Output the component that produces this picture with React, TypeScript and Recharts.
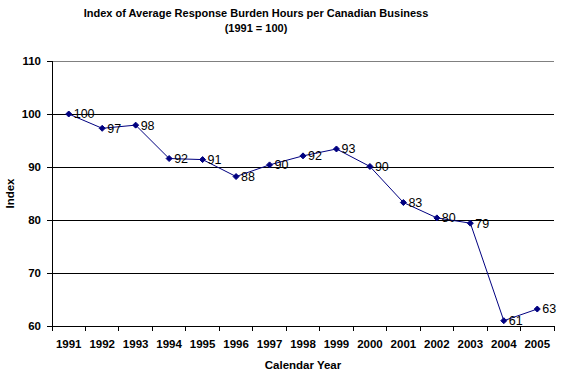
import {
  CartesianGrid,
  LabelList,
  Line,
  LineChart,
  ReferenceLine,
  XAxis,
  YAxis,
} from "recharts"

const years = [
  "1991", "1992", "1993", "1994", "1995", "1996", "1997", "1998",
  "1999", "2000", "2001", "2002", "2003", "2004", "2005",
]
const indexValues = [
  100, 97.3, 97.9, 91.6, 91.4, 88.2, 90.4, 92.1, 93.4, 90.1, 83.3, 80.4,
  79.4, 61.0, 63.2,
]
const yTicks = [60, 70, 80, 90, 100, 110]

const FONT = "'Liberation Sans', Arial, sans-serif"
const W = 564
const H = 374
const PLOT_LEFT = 52
const PLOT_RIGHT = 554
const BAND = (PLOT_RIGHT - PLOT_LEFT) / years.length

const data = years.map((year, i) => ({ year, value: indexValues[i] }))

const XTick = (props: any) => {
  const { x, y, payload, index } = props
  const half = BAND / 2
  return (
    <g shapeRendering="crispEdges">
      <line x1={x - half} x2={x - half} y1={y} y2={y + 5} stroke="#000" />
      {index === years.length - 1 && (
        <line x1={x + half} x2={x + half} y1={y} y2={y + 5} stroke="#000" />
      )}
      <text
        x={x}
        y={y + 18}
        textAnchor="middle"
        dominantBaseline="central"
        fontFamily={FONT}
        fontSize={11.5}
        fontWeight="bold"
        fill="#000"
      >
        {payload.value}
      </text>
    </g>
  )
}

const Diamond = (props: any) => {
  const { cx, cy } = props
  if (cx == null || cy == null) return null
  const r = 3
  return (
    <polygon
      points={`${cx},${cy - r} ${cx + r},${cy} ${cx},${cy + r} ${cx - r},${cy}`}
      fill="#000080"
      stroke="#000080"
    />
  )
}

export default function App() {
  return (
    <div style={{ position: "absolute", left: 0, top: 0, width: W, height: H, background: "#fff" }}>
      <div
        style={{
          position: "absolute",
          left: 0,
          top: 6,
          width: 512,
          textAlign: "center",
          fontFamily: FONT,
          fontSize: 11,
          fontWeight: "bold",
          lineHeight: "15px",
          color: "#000",
        }}
      >
        Index of Average Response Burden Hours per Canadian Business
        <br />
        (1991 = 100)
      </div>
      <LineChart
        width={W}
        height={H}
        data={data}
        margin={{ top: 61, right: 10, bottom: 0, left: 0 }}
      >
        <CartesianGrid
          vertical={false}
          horizontalValues={[70, 80, 90, 100]}
          stroke="#000"
          shapeRendering="crispEdges"
        />
        <ReferenceLine y={110} stroke="#808080" shapeRendering="crispEdges" />
        <XAxis
          dataKey="year"
          interval={0}
          height={48}
          padding={{ left: BAND / 2, right: BAND / 2 }}
          axisLine={{ stroke: "#000", shapeRendering: "crispEdges" }}
          tickLine={false}
          tickSize={0}
          tickMargin={0}
          tick={<XTick />}
          label={{
            value: "Calendar Year",
            position: "insideBottom",
            offset: 5,
            style: { fontFamily: FONT, fontSize: 11.5, fontWeight: "bold", fill: "#000" },
          }}
        />
        <YAxis
          domain={[60, 110]}
          ticks={yTicks}
          width={52}
          tickSize={5}
          tickMargin={6}
          axisLine={{ stroke: "#000", shapeRendering: "crispEdges" }}
          tickLine={{ stroke: "#000", shapeRendering: "crispEdges" }}
          tick={{ fontFamily: FONT, fontSize: 11.5, fontWeight: "bold", fill: "#000" }}
          label={{
            value: "Index",
            angle: -90,
            position: "insideLeft",
            offset: 10,
            style: { fontFamily: FONT, fontSize: 11.5, fontWeight: "bold", fill: "#000", textAnchor: "middle" },
          }}
        />
        <YAxis
          yAxisId="right"
          orientation="right"
          width={0}
          domain={[60, 110]}
          tick={false}
          tickLine={false}
          axisLine={{ stroke: "#808080", shapeRendering: "crispEdges" }}
        />
        <Line
          type="linear"
          dataKey="value"
          stroke="#000080"
          strokeWidth={1}
          dot={<Diamond />}
          activeDot={false}
          isAnimationActive={false}
        >
          <LabelList
            dataKey="value"
            position="right"
            offset={5}
            formatter={(v: any) => Math.round(Number(v))}
            style={{ fontFamily: FONT, fontSize: 12.5, fill: "#000" }}
          />
        </Line>
      </LineChart>
    </div>
  )
}
